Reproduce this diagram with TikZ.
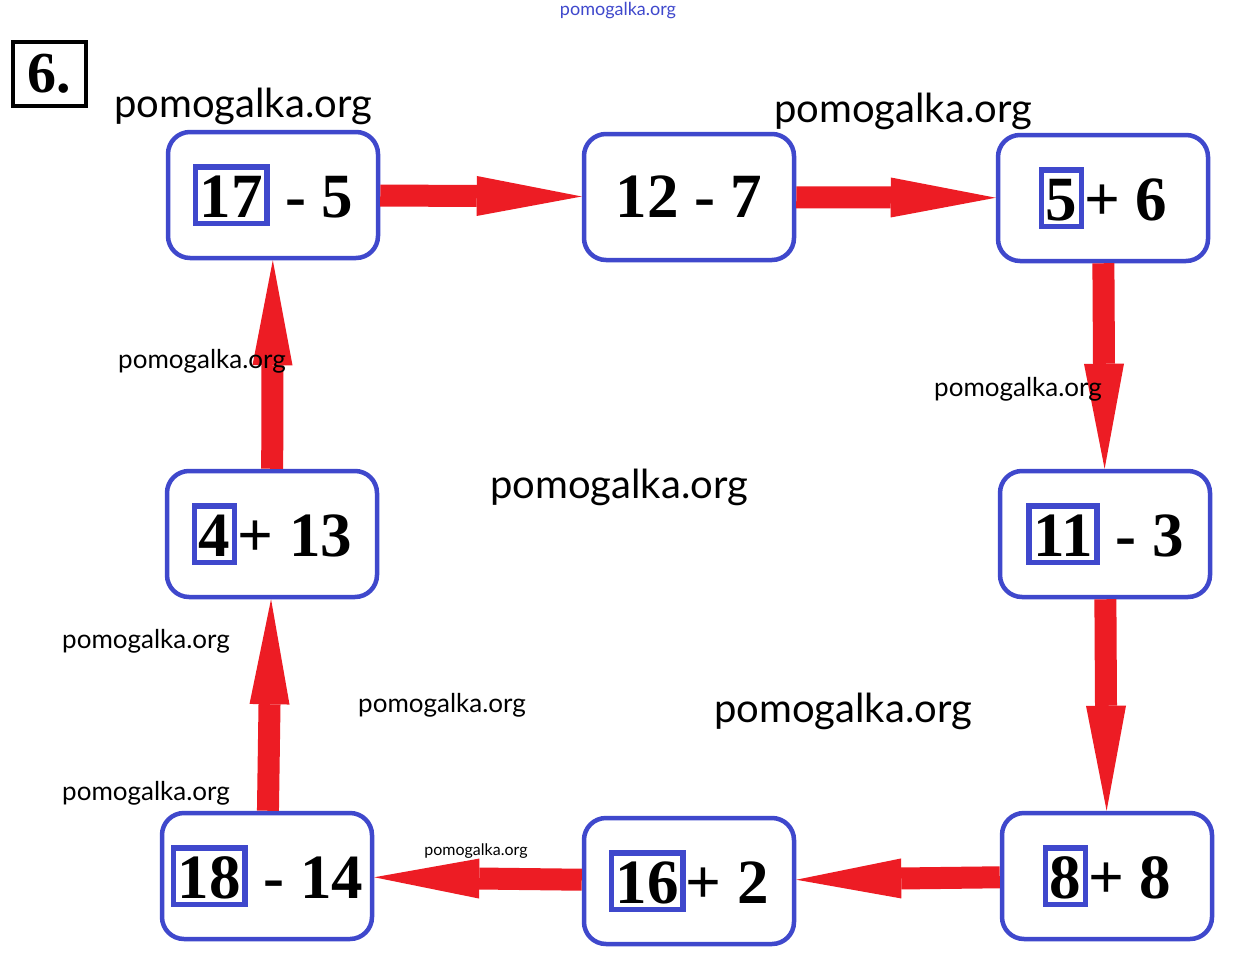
\documentclass[tikz,border=0pt]{standalone}
\usepackage{fontspec}
\setmainfont{Liberation Serif}
\newfontfamily\wmfont{Lato}
\usetikzlibrary{arrows.meta}
\definecolor{boxblue}{RGB}{63,72,204}
\definecolor{arrowred}{RGB}{237,28,36}
\newcommand\numbox[1]{{\setlength\fboxsep{0pt}\setlength\fboxrule{5.5pt}\fcolorbox{boxblue}{white}{\rule[-3pt]{0pt}{51pt}\hspace{1.5pt}#1\hspace{1.5pt}}}}
\tikzset{
  expr/.style={draw=boxblue, line width=4.5pt, rounded corners=22pt, minimum width=210pt, minimum height=126pt, inner sep=0pt, font=\bfseries\fontsize{63}{63}\selectfont},
  link/.style={draw=arrowred, line width=22pt, -{Triangle[length=105pt,width=40pt,line width=0pt]}},
  wm/.style={inner sep=0pt, font=\wmfont\fontsize{40}{40}\selectfont},
  wmsmall/.style={inner sep=0pt, font=\wmfont\fontsize{26}{26}\selectfont}
}

\begin{document}
\begin{tikzpicture}[x=1pt,y=-1pt]
\useasboundingbox[fill=white] (0,0) rectangle (1234,953);

\node[draw, line width=4.5pt, minimum width=73pt, minimum height=64pt, inner sep=0pt, font=\bfseries\fontsize{58}{58}\selectfont] (Num) at (49.5,74) {6.};

\node[expr] (E1) at (273,195) {\numbox{17} - 5};
\node[expr] (E2) at (689,197) {12 - 7};
\node[expr] (E3) at (1103,198) {\numbox{5}+ 6};
\node[expr] (E4) at (1105,534) {\numbox{11} - 3};
\node[expr] (E5) at (1107,876) {\numbox{8}+ 8};
\node[expr] (E6) at (689,881) {\numbox{16}+ 2};
\node[expr] (E7) at (267,876) {\numbox{18} - 14};
\node[expr] (E8) at (272,534) {\numbox{4}+ 13};

\foreach \a/\b in {E1/E2, E2/E3, E3/E4, E4/E5, E5/E6, E6/E7, E7/E8, E8/E1}
{
	\draw[link] (\a) -- (\b);
}

% watermarks
\node[inner sep=0pt, text=boxblue, font=\wmfont\fontsize{18}{18}\selectfont] (W0) at (618,11) {pomogalka.org};
\node[wm] (W1) at (243,106) {pomogalka.org};
\node[wm] (W2) at (903,111) {pomogalka.org};
\node[wmsmall] (W3) at (202,361) {pomogalka.org};
\node[wmsmall] (W4) at (1018,389) {pomogalka.org};
\node[wm] (W5) at (619,487) {pomogalka.org};
\node[wmsmall] (W6) at (146,641) {pomogalka.org};
\node[wmsmall] (W7) at (442,705) {pomogalka.org};
\node[wm] (W8) at (843,711) {pomogalka.org};
\node[wmsmall] (W9) at (146,793) {pomogalka.org};
\node[inner sep=0pt, font=\wmfont\fontsize{16}{16}\selectfont] (W10) at (476,851) {pomogalka.org};

\end{tikzpicture}
\end{document}
